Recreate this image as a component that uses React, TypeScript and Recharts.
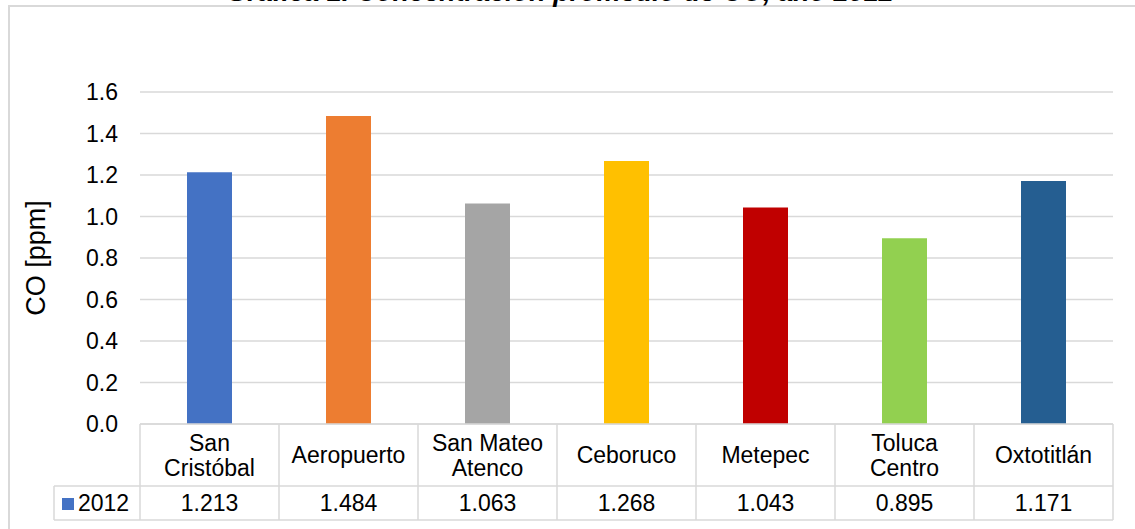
import React from "react";
import { BarChart, Bar, XAxis, YAxis, CartesianGrid, Cell } from "recharts";

const categories = ["San Cristóbal", "Aeropuerto", "San Mateo Atenco", "Ceboruco", "Metepec", "Toluca Centro", "Oxtotitlán"];
const categoryLines = [["San", "Cristóbal"], ["Aeropuerto"], ["San Mateo", "Atenco"], ["Ceboruco"], ["Metepec"], ["Toluca", "Centro"], ["Oxtotitlán"]];
const values2012 = [1.213, 1.484, 1.063, 1.268, 1.043, 0.895, 1.171];
const valueLabels = ["1.213", "1.484", "1.063", "1.268", "1.043", "0.895", "1.171"];
const barColors = ["#4472C4", "#ED7D31", "#A5A5A5", "#FFC000", "#C00000", "#92D050", "#255E91"];
const yTicks = [0, 0.2, 0.4, 0.6, 0.8, 1.0, 1.2, 1.4, 1.6];
const seriesName = "2012";
const title = "Gráfica 1. Concentración promedio de CO, año 2012";

const data = categories.map((c, i) => ({ name: c, value: values2012[i] }));

const GRID = "#D9D9D9";
const FONT = "Arial, 'Liberation Sans', sans-serif";

const TableTick = (props: any) => {
  const { x, y, payload } = props;
  const i: number = payload.index;
  const half: number = payload.offset || 69.5;
  const left = x - half;
  const right = x + half;
  const rowMid = y + 62;
  const bottom = y + 96;
  const lines = categoryLines[i] || [String(payload.value)];
  const fs = 23;
  const headerCenter = y + 31;
  const lineH = 25;
  const firstBase = headerCenter - ((lines.length - 1) * lineH) / 2 + fs * 0.35;
  return (
    <g>
      <line x1={left} y1={y} x2={left} y2={bottom} stroke={GRID} strokeWidth={1.5} />
      {i === categories.length - 1 && (
        <line x1={right} y1={y} x2={right} y2={bottom} stroke={GRID} strokeWidth={1.5} />
      )}
      <line x1={left} y1={rowMid} x2={right} y2={rowMid} stroke={GRID} strokeWidth={1.5} />
      <line x1={left} y1={bottom} x2={right} y2={bottom} stroke={GRID} strokeWidth={1.5} />
      {lines.map((l, k) => (
        <text key={k} x={x} y={firstBase + k * lineH} textAnchor="middle" fontSize={fs} fontFamily={FONT} fill="#000">
          {l}
        </text>
      ))}
      <text x={x} y={y + 87} textAnchor="middle" fontSize={fs} fontFamily={FONT} fill="#000">
        {valueLabels[i]}
      </text>
      {i === 0 && (
        <g>
          <line x1={left - 86} y1={rowMid} x2={left} y2={rowMid} stroke={GRID} strokeWidth={1.5} />
          <line x1={left - 86} y1={bottom} x2={left} y2={bottom} stroke={GRID} strokeWidth={1.5} />
          <line x1={left - 86} y1={rowMid} x2={left - 86} y2={bottom} stroke={GRID} strokeWidth={1.5} />
          <rect x={left - 78} y={rowMid + 12} width={12} height={12} fill={barColors[0]} />
          <text x={left - 62} y={y + 87} fontSize={fs} fontFamily={FONT} fill="#000">
            {seriesName}
          </text>
        </g>
      )}
    </g>
  );
};

export default function App() {
  return (
    <div style={{ position: "absolute", left: 0, top: 0, width: 1135, height: 529, overflow: "hidden", background: "#fff" }}>
      <div
        style={{
          position: "absolute",
          left: 8,
          top: 5,
          width: 1300,
          height: 700,
          borderLeft: `2px solid ${GRID}`,
          borderTop: `2px solid ${GRID}`,
        }}
      />
      <div
        style={{
          position: "absolute",
          left: 0,
          width: 1120,
          top: -23,
          textAlign: "center",
          fontFamily: FONT,
          fontWeight: "bold",
          fontStyle: "italic",
          fontSize: 27,
          lineHeight: "30px",
          color: "#000",
          whiteSpace: "nowrap",
        }}
      >
        {title}
      </div>
      <div style={{ position: "absolute", left: 0, top: 0 }}>
        <BarChart
          width={1135}
          height={529}
          data={data}
          margin={{ top: 92, right: 22, left: 80, bottom: 9 }}
          barSize={45}
        >
          <CartesianGrid vertical={false} stroke={GRID} strokeWidth={1.5} />
          <XAxis
            dataKey="name"
            height={96}
            tickLine={false}
            tickSize={0}
            tickMargin={0}
            axisLine={{ stroke: GRID, strokeWidth: 1.5 }}
            tick={<TableTick />}
            interval={0}
          />
          <YAxis
            width={60}
            domain={[0, 1.6]}
            ticks={yTicks}
            tickFormatter={(v: number) => v.toFixed(1)}
            axisLine={false}
            tickLine={false}
            tickSize={0}
            tickMargin={22}
            tick={{ fontSize: 23, fontFamily: FONT, fill: "#000" }}
            label={{
              value: "CO [ppm]",
              angle: -90,
              position: "insideLeft",
              dx: -50,
              style: { textAnchor: "middle", fontSize: 27, fontFamily: FONT, fill: "#000" },
            }}
          />
          <Bar dataKey="value" isAnimationActive={false}>
            {data.map((d, i) => (
              <Cell key={d.name} fill={barColors[i]} />
            ))}
          </Bar>
        </BarChart>
      </div>
    </div>
  );
}
